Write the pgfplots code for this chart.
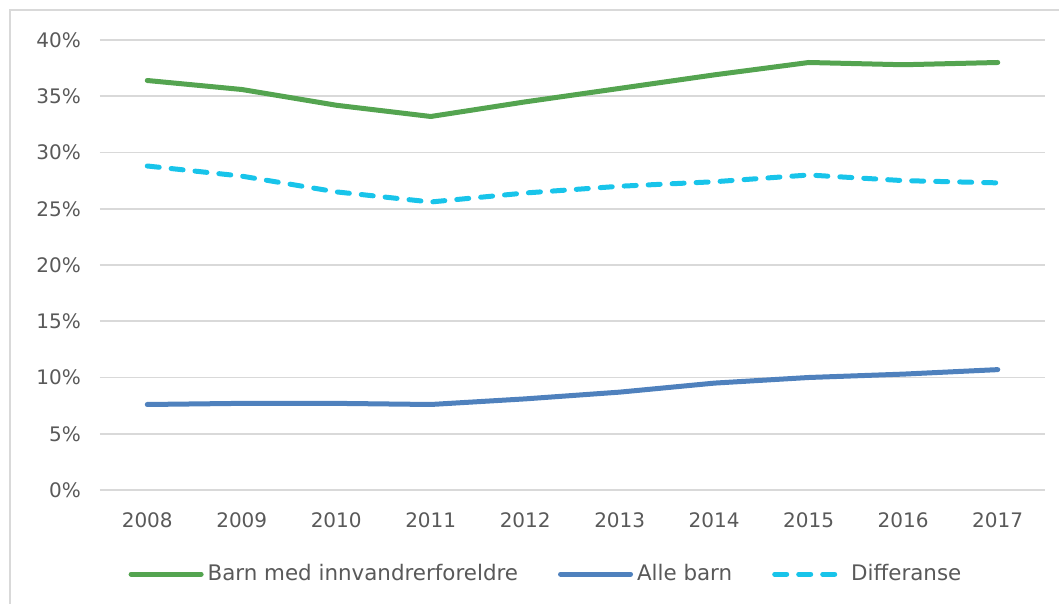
\documentclass[border=0pt]{standalone}
\usepackage{pgfplots}
\pgfplotsset{compat=1.18}
\usepackage{fontspec}
\setmainfont{DejaVu Sans}
\definecolor{grn}{RGB}{84,164,80}
\definecolor{blu}{RGB}{79,129,189}
\definecolor{cyn}{RGB}{24,196,234}
\definecolor{txt}{RGB}{89,89,89}
\begin{document}
\fontsize{10}{12}\selectfont
\begin{tikzpicture}
\begin{axis}[
  scale only axis, width=472.5pt, height=225pt,
  xmin=2007.5, xmax=2017.5, ymin=0, ymax=40,
  xtick={2008,...,2017}, ytick={0,5,...,40},
  axis line style={draw=none}, major tick length=0pt,
  ymajorgrids, grid style={gray!30, line width=0.8pt},
  /pgf/number format/assume math mode=true,
  xticklabel style={/pgf/number format/1000 sep={}, text=txt, yshift=-8pt},
  yticklabel={\pgfmathprintnumber{\tick}\%},
  yticklabel style={text=txt, xshift=-6pt},
  legend columns=3,
  legend style={draw=none, at={(0.473,-0.187)}, anchor=center, text=txt,
    font=\fontsize{10.7}{12.8}\selectfont,
    /tikz/every even column/.append style={column sep=18pt}},
  legend image code/.code={\draw[#1] (0pt,0pt) -- (35pt,0pt);},
]
\addplot[grn, line width=2.5pt, line cap=round, line join=round] coordinates {
(2008,36.4)(2009,35.6)(2010,34.2)(2011,33.2)(2012,34.5)(2013,35.7)(2014,36.9)(2015,38.0)(2016,37.8)(2017,38.0)};
\addlegendentry{Barn med innvandrerforeldre}
\addplot[blu, line width=2.5pt, line cap=round, line join=round] coordinates {
(2008,7.6)(2009,7.7)(2010,7.7)(2011,7.6)(2012,8.1)(2013,8.7)(2014,9.5)(2015,10.0)(2016,10.3)(2017,10.7)};
\addlegendentry{Alle barn}
\addplot[cyn, line width=2.5pt, line cap=round, line join=round, dash pattern=on 6pt off 6pt] coordinates {
(2008,28.8)(2009,27.9)(2010,26.5)(2011,25.6)(2012,26.4)(2013,27.0)(2014,27.4)(2015,28.0)(2016,27.5)(2017,27.3)};
\addlegendentry{Differanse}
\path (rel axis cs:0,0) coordinate (ll) (rel axis cs:1,1) coordinate (ur);
\end{axis}
\pgfresetboundingbox
\path[use as bounding box] ([xshift=-50pt,yshift=-57pt]ll) rectangle ([xshift=7pt,yshift=20pt]ur);
\draw[gray!30, line width=0.7pt] ([xshift=-45pt,yshift=-70pt]ll) rectangle ([xshift=20pt,yshift=15pt]ur);
\end{tikzpicture}
\end{document}
